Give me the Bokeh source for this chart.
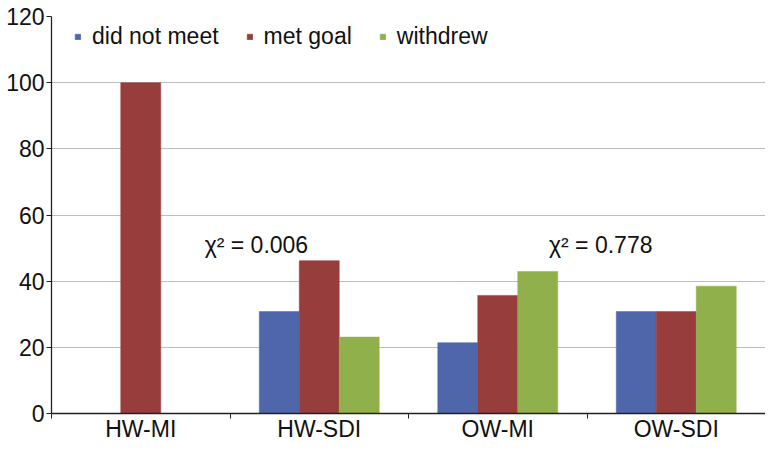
import numpy as np
from bokeh.plotting import figure
from bokeh.models import (ColumnDataSource, FixedTicker, Legend, LegendItem,
                          Label, Range1d)
from bokeh.embed import file_html
from bokeh.resources import INLINE

# ---- data ----
groups = ["HW-MI", "HW-SDI", "OW-MI", "OW-SDI"]
series = ["did not meet", "met goal", "withdrew"]
did_not_meet = [0.0, 30.8, 21.4, 30.8]
met_goal = [100.0, 46.2, 35.7, 30.8]
withdrew = [0.0, 23.1, 42.9, 38.5]
chi_labels = ["χ² = 0.006", "χ² = 0.778"]
y_ticks = [0, 20, 40, 60, 80, 100, 120]

colors = ["#4f66ab", "#973d3c", "#8fb04b"]
FONT = "Liberation Sans"
FS = "23px"
TXT = "#111111"

p = figure(width=765, height=444, x_range=Range1d(0, 4), y_range=Range1d(0, 120),
           output_backend="svg", toolbar_location=None,
           min_border_left=51, min_border_top=16, min_border_right=0,
           min_border_bottom=10)
p.outline_line_color = None
p.background_fill_color = "white"
p.border_fill_color = "white"
p.xgrid.visible = False
p.ygrid.grid_line_color = "#bdbdbd"
p.ygrid.grid_line_width = 1.2

centers = np.arange(len(groups)) + 0.5
bw = 0.224
renderers = []
for k, vals in enumerate([did_not_meet, met_goal, withdrew]):
    src = ColumnDataSource(dict(x=centers + (k - 1) * bw, top=vals))
    r = p.vbar(x="x", top="top", width=bw, bottom=0, source=src,
               fill_color=colors[k], line_color=colors[k], line_width=0.5)
    renderers.append(r)

# y axis
p.yaxis.ticker = FixedTicker(ticks=y_ticks)
p.yaxis.major_tick_in = 0
p.yaxis.major_tick_out = 5
p.yaxis.minor_tick_line_color = None
p.yaxis.major_label_standoff = 2
p.yaxis.major_label_text_font = FONT
p.yaxis.major_label_text_font_size = FS
p.yaxis.major_label_text_color = TXT
p.yaxis.axis_line_color = "#222222"
p.yaxis.axis_line_width = 1.3
p.yaxis.major_tick_line_color = "#222222"

# x axis: labels at category centres, tick marks at category boundaries
p.xaxis.ticker = FixedTicker(ticks=list(centers), minor_ticks=list(range(len(groups) + 1)))
p.xaxis.major_label_overrides = {float(c): g for c, g in zip(centers, groups)}
p.xaxis.major_label_text_font = FONT
p.xaxis.major_label_text_font_size = FS
p.xaxis.major_label_text_color = TXT
p.xaxis.major_label_standoff = -3
p.xaxis.major_tick_line_color = None
p.xaxis.major_tick_out = 5
p.xaxis.major_tick_in = 0
p.xaxis.minor_tick_in = 0
p.xaxis.minor_tick_out = 5
p.xaxis.minor_tick_line_color = "#222222"
p.xaxis.axis_line_color = "#222222"
p.xaxis.axis_line_width = 1.3

# legend
legend = Legend(items=[LegendItem(label=s, renderers=[r]) for s, r in zip(series, renderers)],
                orientation="horizontal", location=(23, 363),
                glyph_width=7, glyph_height=7, label_standoff=11, spacing=27,
                padding=0, margin=0, border_line_color=None,
                background_fill_alpha=0,
                label_text_font=FONT, label_text_font_size=FS,
                label_text_color=TXT)
p.add_layout(legend)

# chi-square annotations
for xx, t in zip([0.858, 2.787], chi_labels):
    p.add_layout(Label(x=xx, y=51, text=t, text_baseline="middle",
                       text_font=FONT, text_font_size=FS, text_color=TXT))

open("out.html", "w").write(file_html(p, INLINE))
